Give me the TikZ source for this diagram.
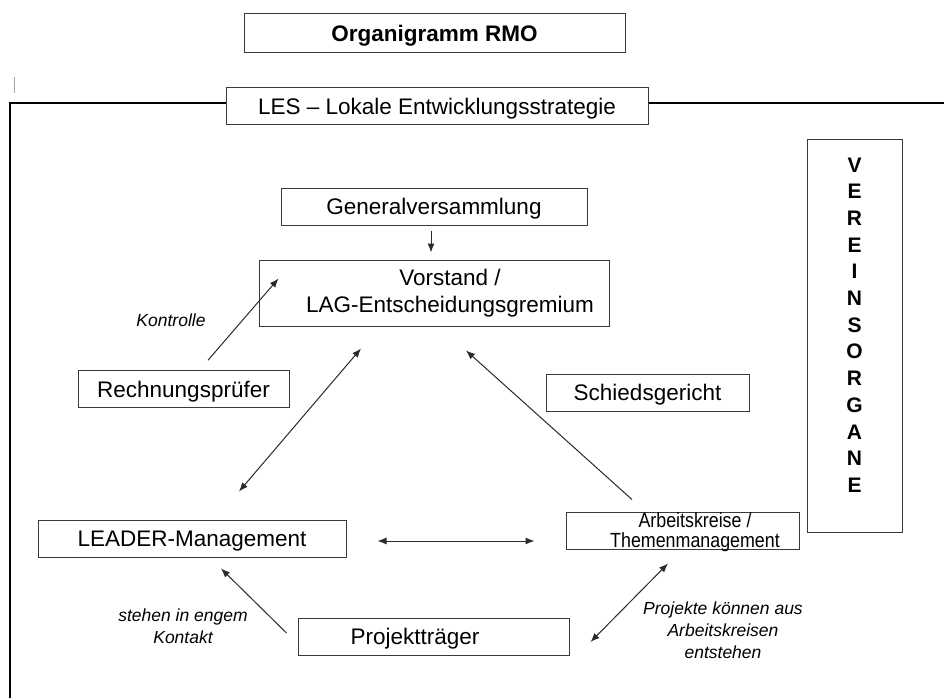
\documentclass[tikz,border=0pt]{standalone}
\usepackage{fontspec}
\setmainfont{Liberation Sans}
\newfontfamily\narrowfont[FakeStretch=0.87]{Liberation Sans}
\usetikzlibrary{arrows.meta,calc}
\definecolor{boxc}{HTML}{3A3A3A}
\definecolor{arrc}{HTML}{2A2A2A}
\begin{document}
\begin{tikzpicture}[x=1pt,y=-1pt,
  box/.style={draw=boxc, line width=1pt, inner sep=0pt, minimum height=37pt, text depth=0pt,
    font=\fontsize{22.5}{27}\selectfont, align=center},
  arr/.style={draw=arrc, line width=1pt, -{Latex[length=9pt,width=7pt]}},
  darr/.style={draw=arrc, line width=1pt, {Latex[length=9pt,width=7pt]}-{Latex[length=9pt,width=7pt]}},
  frame/.style={line width=2pt, draw=black},
  lab/.style={font=\fontsize{17.5}{22}\selectfont\itshape, align=center, inner sep=0pt}]
\useasboundingbox (0,0) rectangle (944,698);
\fill[white] (0,0) rectangle (944,698);

% cursor mark
\draw[gray!70, line width=1pt] (14,77) -- (14,93);

% title and frame
\node[box, font=\fontsize{22.5}{27}\selectfont\bfseries, minimum width=381pt, minimum height=39pt] (title) at (434.5,33.5) {Organigramm RMO};
\node[box, minimum width=422pt, minimum height=36pt] (les) at (437,106) {LES -- Lokale Entwicklungsstrategie};
\coordinate (fbl) at (10,698);
\coordinate (ftl) at (10,103);
\coordinate (ftr) at (944,103);
\draw[frame] (fbl) -- (ftl) -- (ftl -| les.west);
\draw[frame] (ftr -| les.east) -- (ftr);

% boxes
\node[box, minimum width=306pt] (gv) at (434,206.5) {Generalversammlung};
\node[box, minimum width=350pt, minimum height=66pt, text depth=4pt] (vs) at (434,293) {\hspace*{32pt}Vorstand /\\\hspace*{32pt}LAG-Entscheidungsgremium};
\node[box, minimum width=211pt, minimum height=36.5pt] (rp) at (183.5,389) {Rechnungsprüfer};
\node[box, minimum width=203pt] (sg) at (647.5,392.5) {Schiedsgericht};
\node[box, minimum width=308pt] (lm) at (192,538.5) {LEADER-Management};
\node[box, minimum width=271pt] (pt) at (433.5,636.5) {\hspace*{-37pt}Projektträger};
\node[box, minimum width=233pt] (ak) at (682.5,530.5) {};
\node[font=\narrowfont\fontsize{20.5}{20}\selectfont, align=center, inner sep=0pt] (akt) at (695,532) {Arbeitskreise /\\Themenmanagement};
\node[box, minimum width=95pt, minimum height=393pt] (vo) at (854.5,335.5) {};
\node[font=\bfseries\fontsize{21}{26.7}\selectfont, align=center, inner sep=0pt] (vot) at (854.5,325) {V\\E\\R\\E\\I\\N\\S\\O\\R\\G\\A\\N\\E};

% labels
\node[lab] (kon) at (171,320) {Kontrolle};
\node[lab] (stk) at (183,626) {stehen in engem\\Kontakt};
\node[lab] (pka) at (723,630) {Projekte können aus\\Arbeitskreisen\\entstehen};

% connectors
\draw[arr] ($(gv.south)+(-3,5)$) -- ($(vs.north)+(-3,-7)$);
\draw[arr] ($(rp.north)+(24.5,-10)$) -- ($(vs.north west)+(20,19)$);
\draw[darr] ($(vs.south)+(-73,22)$) -- ($(lm.north)+(47,-28)$);
\draw[arr] ($(ak.north)+(-50.5,-12)$) -- ($(vs.south)+(32,24)$);
\draw[darr] ($(lm.east)+(31,2.5)$) -- ($(ak.west)+(-31,10.5)$);
\draw[arr] ($(pt.west)+(-11,-3.5)$) -- ($(lm.south)+(29,11)$);
\draw[darr] ($(ak.south)+(-14.5,14)$) -- ($(pt.east)+(21,5.5)$);
\end{tikzpicture}
\end{document}
